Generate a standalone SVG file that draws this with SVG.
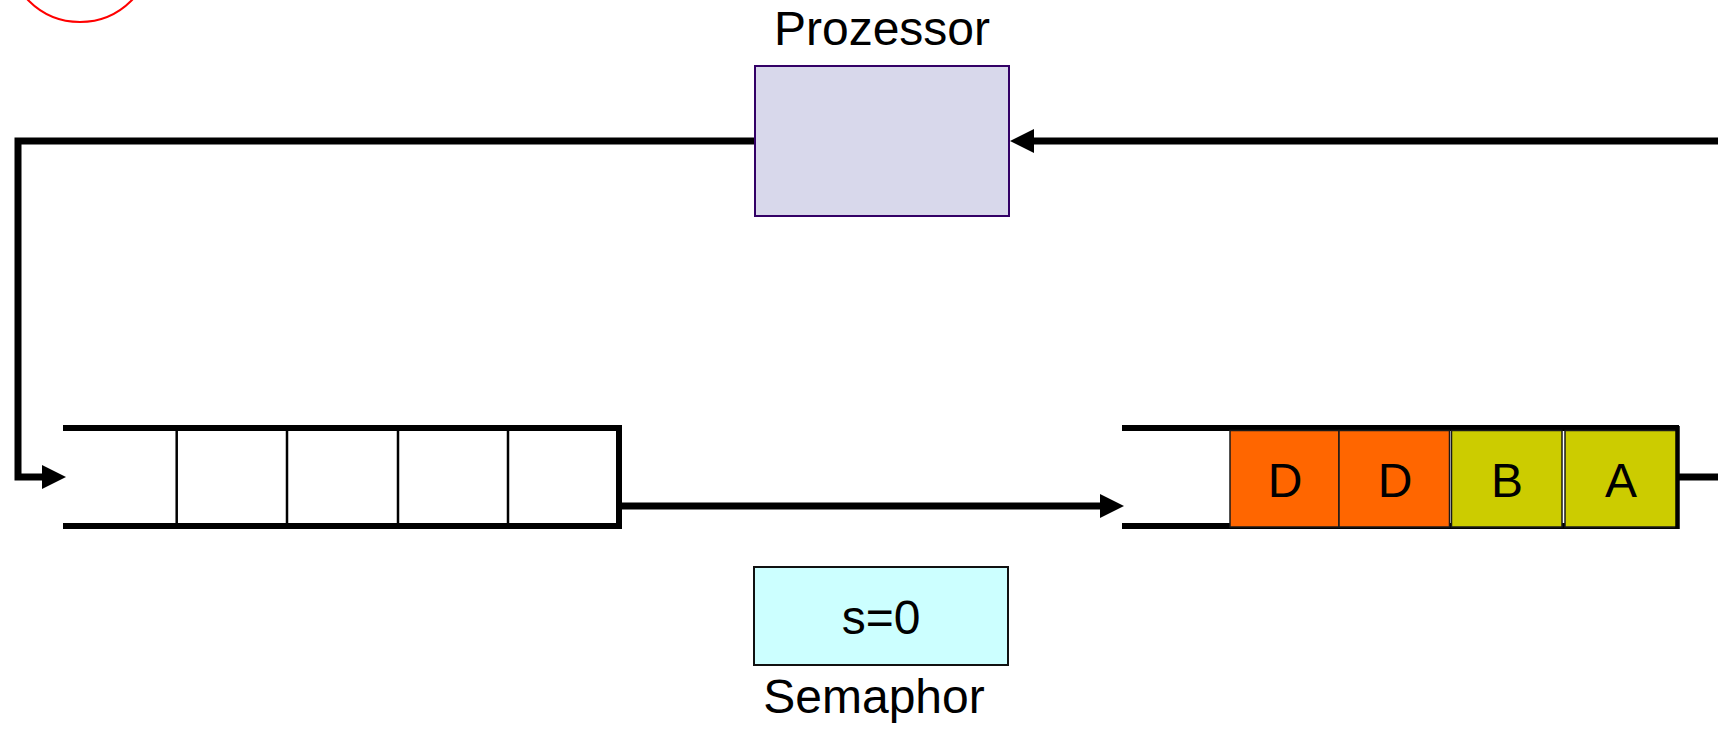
<svg xmlns="http://www.w3.org/2000/svg" width="1718" height="731" viewBox="0 0 1718 731">
<style>
.lbl{font-family:"Liberation Sans",Arial,sans-serif;font-size:48px;fill:#000;text-anchor:middle}
.cell{font-family:"Liberation Sans",Arial,sans-serif;font-size:48px;fill:#000;text-anchor:middle}
.conn{fill:none;stroke:#000;stroke-width:7}
.qline{stroke:#000;stroke-width:6;fill:none}
.div{stroke:#000;stroke-width:2.5}
.slot{stroke:#1a1a1a;stroke-width:1.5}
</style>
<defs>
<marker id="ah" markerUnits="userSpaceOnUse" markerWidth="24" markerHeight="24" viewBox="0 0 24 24" refX="0" refY="12" orient="auto">
<path d="M0,0 L24,12 L0,24 Z" fill="#000"/>
</marker>
</defs>
<rect width="1718" height="731" fill="#fff"/>
<circle cx="80" cy="-50.5" r="72.5" fill="none" stroke="#ff0000" stroke-width="2"/>
<g id="connectors">
<path class="conn" d="M755,141 H18 V477 H42" marker-end="url(#ah)"/>
<path class="conn" d="M1718,141 H1034" marker-end="url(#ah)"/>
<path class="conn" d="M619,506 H1100" marker-end="url(#ah)"/>
<path class="conn" d="M1677,477 H1718"/>
</g>
<g id="prozessor">
<rect x="755" y="66" width="254" height="150" fill="#d8d8eb" stroke="#330066" stroke-width="2"/>
<text class="lbl" x="882" y="45">Prozessor</text>
</g>
<g id="queue-left">
<path class="qline" d="M63,428 H619 M63,526 H619"/>
<path class="qline" d="M619,425 V529"/>
<path class="div" d="M176.7,431 V523 M287,431 V523 M398,431 V523 M508,431 V523"/>
</g>
<g id="queue-right">
<path class="qline" d="M1122,428 H1679 M1122,526 H1679"/>
<rect class="slot" x="1230" y="430.5" width="109" height="96.5" fill="#ff6600"/>
<rect class="slot" x="1339" y="430.5" width="110.5" height="96.5" fill="#ff6600"/>
<rect class="slot" x="1451.5" y="430.5" width="110.5" height="96.5" fill="#cccc00"/>
<rect class="slot" x="1565" y="430.5" width="112" height="96.5" fill="#cccc00"/>
<path d="M1677.5,426 V529" stroke="#000" stroke-width="4.5"/>
<text class="cell" x="1285" y="497">D</text>
<text class="cell" x="1395" y="497">D</text>
<text class="cell" x="1507" y="497">B</text>
<text class="cell" x="1621" y="497">A</text>
</g>
<g id="semaphor">
<rect x="754" y="567" width="254" height="98" fill="#ccffff" stroke="#111" stroke-width="2"/>
<text class="lbl" x="881" y="634">s=0</text>
<text class="lbl" x="874" y="713">Semaphor</text>
</g>
</svg>
